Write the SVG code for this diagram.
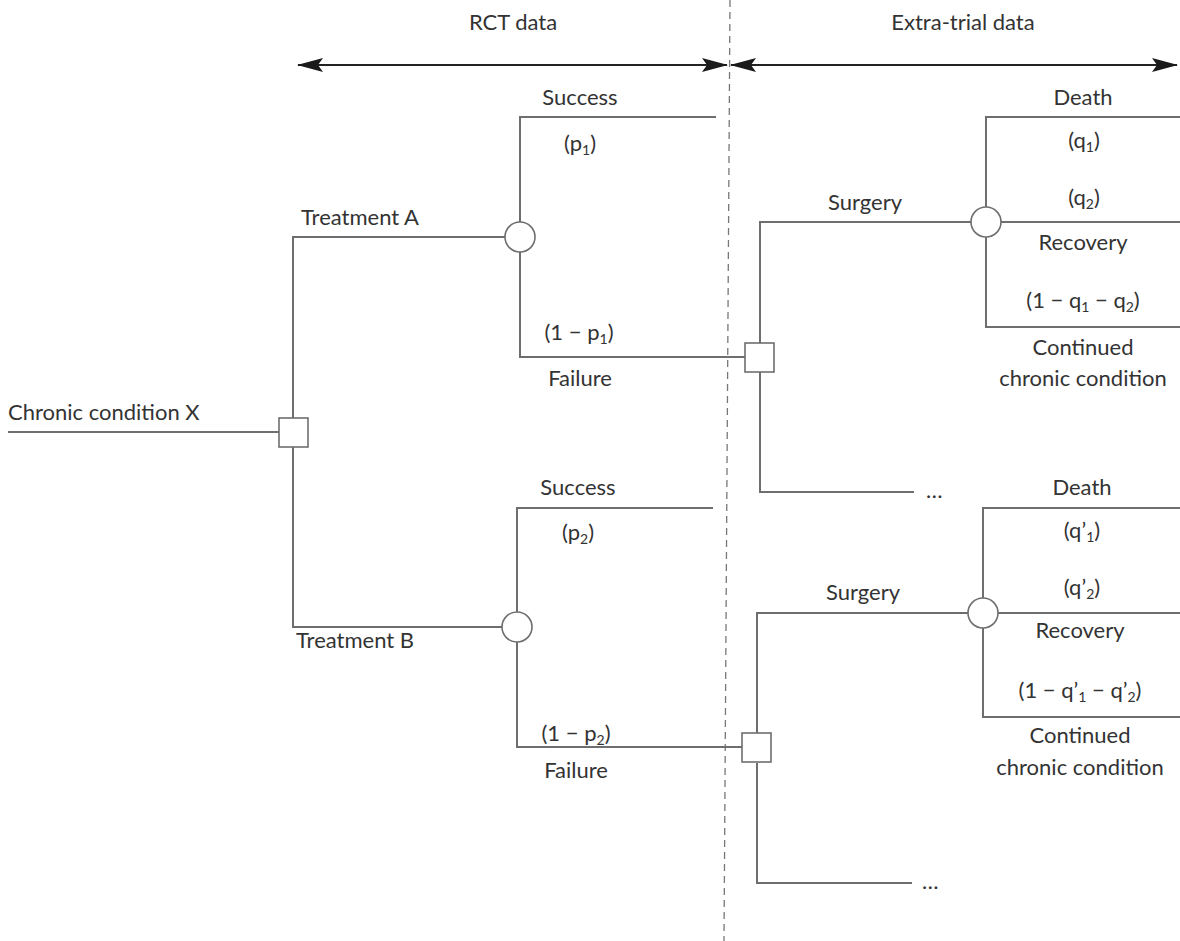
<svg xmlns="http://www.w3.org/2000/svg" width="1180" height="941" viewBox="0 0 1180 941">
  <style>
    .ln { fill: none; stroke: #6e6e6e; stroke-width: 2; }
    .nd { fill: #ffffff; stroke: #6e6e6e; stroke-width: 1.6; }
    .ax { stroke: #222; stroke-width: 2; }
    .dv { stroke: #777; stroke-width: 1.3; stroke-dasharray: 7 5; }
    text { font-family: "Lato", "Open Sans", "Liberation Sans", sans-serif; font-size: 22px; fill: #333; }
    .c { text-anchor: middle; }
    .s { font-size: 14px; }
  </style>
  <defs>
    <marker id="head" viewBox="0 0 26 16" refX="25" refY="8" markerWidth="26" markerHeight="16" markerUnits="userSpaceOnUse" orient="auto-start-reverse">
      <path d="M0,1 L26,8 L0,15 L5,8 Z" fill="#1a1a1a"/>
    </marker>
  </defs>
  <rect width="1180" height="941" fill="#ffffff"/>

  <!-- data-source spans -->
  <g id="spans">
    <line class="dv" x1="730" y1="0" x2="724" y2="941"/>
    <line class="ax" x1="298" y1="65" x2="727" y2="65" marker-start="url(#head)" marker-end="url(#head)"/>
    <line class="ax" x1="731" y1="65" x2="1177" y2="65" marker-start="url(#head)" marker-end="url(#head)"/>
    <text class="c" x="513" y="30">RCT data</text>
    <text class="c" x="963" y="30">Extra-trial data</text>
  </g>

  <!-- branches -->
  <g id="connectors">
    <line class="ln" x1="8" y1="432" x2="279" y2="432"/>
    <path class="ln" d="M293,418 V237 H505"/>
    <path class="ln" d="M293,447 V627 H502"/>
    <path class="ln" d="M520,222 V117 H716"/>
    <path class="ln" d="M520,252 V357 H745"/>
    <path class="ln" d="M517,612 V508 H713"/>
    <path class="ln" d="M517,642 V747 H742"/>
    <path class="ln" d="M760,343 V222 H971"/>
    <path class="ln" d="M760,372 V492 H914"/>
    <path class="ln" d="M757,733 V613 H968"/>
    <path class="ln" d="M757,763 V883 H912"/>
    <path class="ln" d="M986,207 V117 H1180"/>
    <path class="ln" d="M1001,222 H1180"/>
    <path class="ln" d="M986,237 V327 H1180"/>
    <path class="ln" d="M983,598 V508 H1180"/>
    <path class="ln" d="M998,613 H1180"/>
    <path class="ln" d="M983,628 V717 H1180"/>
  </g>

  <!-- decision and chance nodes -->
  <g id="root-decision"><rect class="nd" x="279" y="418" width="29" height="29"/></g>
  <g id="chance-a"><circle class="nd" cx="520" cy="237" r="15"/></g>
  <g id="chance-b"><circle class="nd" cx="517" cy="627" r="15"/></g>
  <g id="decision-a"><rect class="nd" x="745" y="343" width="29" height="29"/></g>
  <g id="decision-b"><rect class="nd" x="742" y="733" width="29" height="29"/></g>
  <g id="surgery-a"><circle class="nd" cx="986" cy="222" r="15"/></g>
  <g id="surgery-b"><circle class="nd" cx="983" cy="613" r="15"/></g>

  <!-- labels -->
  <g id="labels">
    <text x="8" y="420">Chronic condition X</text>
    <text class="c" x="360" y="225">Treatment A</text>
    <text class="c" x="355" y="648">Treatment B</text>

    <text class="c" x="580" y="105">Success</text>
    <text class="c" x="580" y="151">(p<tspan class="s" dy="4">1</tspan><tspan dy="-4">)</tspan></text>
    <text class="c" x="579" y="340">(1 − p<tspan class="s" dy="4">1</tspan><tspan dy="-4">)</tspan></text>
    <text class="c" x="580" y="386">Failure</text>

    <text class="c" x="578" y="495">Success</text>
    <text class="c" x="578" y="540">(p<tspan class="s" dy="4">2</tspan><tspan dy="-4">)</tspan></text>
    <text class="c" x="576" y="741">(1 − p<tspan class="s" dy="4">2</tspan><tspan dy="-4">)</tspan></text>
    <text class="c" x="576" y="778">Failure</text>

    <text class="c" x="865" y="210">Surgery</text>
    <text x="926" y="498">…</text>
    <text class="c" x="1083" y="105">Death</text>
    <text class="c" x="1084" y="148">(q<tspan class="s" dy="4">1</tspan><tspan dy="-4">)</tspan></text>
    <text class="c" x="1084" y="205">(q<tspan class="s" dy="4">2</tspan><tspan dy="-4">)</tspan></text>
    <text class="c" x="1083" y="250">Recovery</text>
    <text class="c" x="1083" y="308">(1 − q<tspan class="s" dy="4">1</tspan><tspan dy="-4"> − q</tspan><tspan class="s" dy="4">2</tspan><tspan dy="-4">)</tspan></text>
    <text class="c" x="1083" y="355">Continued</text>
    <text class="c" x="1083" y="386">chronic condition</text>

    <text class="c" x="863" y="600">Surgery</text>
    <text x="922" y="889">…</text>
    <text class="c" x="1082" y="495">Death</text>
    <text class="c" x="1082" y="538">(q’<tspan class="s" dy="4">1</tspan><tspan dy="-4">)</tspan></text>
    <text class="c" x="1082" y="595">(q’<tspan class="s" dy="4">2</tspan><tspan dy="-4">)</tspan></text>
    <text class="c" x="1080" y="638">Recovery</text>
    <text class="c" x="1080" y="698">(1 − q’<tspan class="s" dy="4">1</tspan><tspan dy="-4"> − q’</tspan><tspan class="s" dy="4">2</tspan><tspan dy="-4">)</tspan></text>
    <text class="c" x="1080" y="743">Continued</text>
    <text class="c" x="1080" y="775">chronic condition</text>
  </g>
</svg>
